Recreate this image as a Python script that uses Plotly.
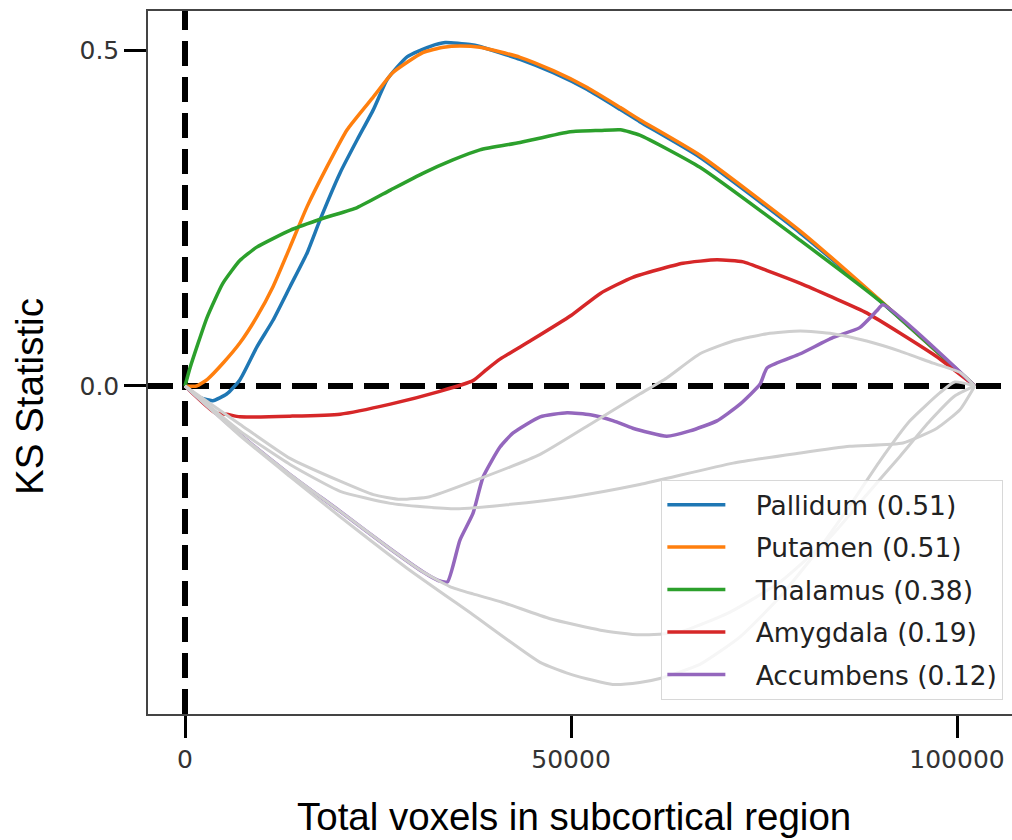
import plotly.graph_objects as go

# KS statistic along the voxel-count sweep, one curve per subcortical region
pallidum_x = [0, 1900, 3600, 5400, 7100, 9300, 11400, 13600, 15800, 17500, 20100, 22300, 24400,
              26200, 28800, 31700, 33700, 36900, 38200, 43400, 47700, 52100, 56400, 58900,
              66700, 79700, 90400, 102300]
pallidum_y = [0, -0.017, -0.022, -0.012, 0.009, 0.058, 0.098, 0.148, 0.198, 0.248, 0.318, 0.367,
              0.412, 0.457, 0.491, 0.506, 0.512, 0.509, 0.506, 0.487, 0.467, 0.442, 0.412, 0.394,
              0.341, 0.228, 0.123, 0]

putamen_x = [0, 1500, 2900, 5000, 7100, 9300, 11400, 13600, 15800, 18400, 21000, 24400, 26900,
             30800, 33500, 35600, 38200, 43400, 47700, 52100, 56400, 58900, 66700, 79700, 90400,
             102300]
putamen_y = [0, 0.0, 0.01, 0.035, 0.064, 0.103, 0.148, 0.207, 0.267, 0.327, 0.382, 0.431, 0.467,
             0.497, 0.505, 0.507, 0.505, 0.490, 0.470, 0.445, 0.415, 0.397, 0.344, 0.231, 0.124, 0]

thalamus_x = [0, 650, 2850, 4900, 7100, 9300, 13600, 17900, 22300, 26600, 30800, 34700, 38200,
              43400, 49900, 53800, 56400, 58900, 66700, 79700, 90400, 102300]
thalamus_y = [0, 0.027, 0.102, 0.153, 0.187, 0.207, 0.232, 0.25, 0.266, 0.292, 0.317, 0.337,
              0.352, 0.363, 0.379, 0.381, 0.382, 0.374, 0.326, 0.217, 0.123, 0]

amygdala_x = [0, 3900, 5400, 7100, 13600, 20100, 26600, 33000, 37300, 39000, 40800, 44700, 50000,
              53800, 58000, 64500, 68900, 72300, 75400, 79700, 83900, 88300, 97200, 102300]
amygdala_y = [0, -0.04, -0.042, -0.046, -0.045, -0.042, -0.027, -0.008, 0.008, 0.024, 0.04, 0.067,
              0.105, 0.138, 0.162, 0.183, 0.188, 0.185, 0.172, 0.153, 0.132, 0.109, 0.045, 0]

accumbens_x = [0, 7100, 13600, 20100, 26600, 30800, 32800, 34000, 35600, 37300, 38600, 40800,
               42500, 46000, 49500, 52500, 55500, 58000, 62400, 65400, 68900, 71900, 74500,
               75400, 79700, 83900, 87400, 89600, 90400, 102300]
accumbens_y = [0, -0.072, -0.132, -0.187, -0.243, -0.277, -0.29, -0.292, -0.23, -0.19, -0.136,
               -0.091, -0.07, -0.046, -0.04, -0.043, -0.052, -0.063, -0.075, -0.067, -0.052,
               -0.027, 0.003, 0.027, 0.048, 0.072, 0.087, 0.112, 0.121, 0]

# reference curves shown in light grey
ref_a_x = [0, 7100, 13600, 20100, 24400, 27900, 31700, 37300, 46000, 52500, 58900, 62400, 66700,
           71000, 75400, 79700, 83900, 88300, 92600, 96900, 100400, 102300]
ref_a_y = [0, -0.057, -0.108, -0.142, -0.162, -0.169, -0.165, -0.142, -0.102, -0.057, -0.012,
           0.012, 0.048, 0.067, 0.078, 0.082, 0.078, 0.067, 0.052, 0.034, 0.02, 0]

ref_b_x = [0, 7100, 13600, 20100, 26600, 30800, 35200, 41700, 50300, 58900, 71000, 79700, 86100,
           93000, 97400, 100400, 102300]
ref_b_y = [0, -0.067, -0.117, -0.157, -0.175, -0.18, -0.183, -0.177, -0.165, -0.147, -0.115,
           -0.1, -0.09, -0.085, -0.063, -0.035, 0]

ref_c_x = [0, 7100, 13600, 20100, 26600, 30800, 34300, 37300, 41000, 47300, 53800, 58900, 64100,
           70600, 77100, 83600, 88300, 92600, 96500, 99700, 102300]
ref_c_y = [0, -0.072, -0.132, -0.187, -0.243, -0.277, -0.299, -0.31, -0.322, -0.347, -0.364,
           -0.371, -0.367, -0.337, -0.292, -0.225, -0.162, -0.105, -0.052, -0.015, 0]

ref_d_x = [0, 7100, 13600, 20100, 28800, 37300, 46000, 50300, 55400, 58900, 61500, 66700, 71900,
           77100, 82300, 86500, 90000, 93900, 97800, 99700, 102300]
ref_d_y = [0, -0.074, -0.135, -0.195, -0.272, -0.341, -0.412, -0.431, -0.445, -0.442, -0.436,
           -0.415, -0.374, -0.314, -0.24, -0.172, -0.112, -0.052, -0.01, 0.006, 0]

region_names = ["Pallidum", "Putamen", "Thalamus", "Amygdala", "Accumbens"]
region_colors = ["#1f77b4", "#ff7f0e", "#2ca02c", "#d62728", "#9467bd"]
region_xs = [pallidum_x, putamen_x, thalamus_x, amygdala_x, accumbens_x]
region_ys = [pallidum_y, putamen_y, thalamus_y, amygdala_y, accumbens_y]
ref_xs = [ref_a_x, ref_b_x, ref_c_x, ref_d_x]
ref_ys = [ref_a_y, ref_b_y, ref_c_y, ref_d_y]

x_ticks = [0, 50000, 100000]
x_tick_labels = ["0", "50000", "100000"]
y_ticks = [0.0, 0.5]
y_tick_labels = ["0.0", "0.5"]

fig = go.Figure()

# gap between the short legend handle and its label
label_pad = "\u00a0\u00a0\u00a0"

for name, color, xs, ys in zip(region_names, region_colors, region_xs, region_ys):
    fig.add_trace(go.Scatter(
        x=xs, y=ys, mode="lines",
        name=f"{label_pad}{name} ({max(ys):.2f})",
        legendgroup=name,
        line=dict(color=color, width=3.5, shape="spline", smoothing=0.5),
    ))

for xs, ys in zip(ref_xs, ref_ys):
    fig.add_trace(go.Scatter(
        x=xs, y=ys, mode="lines", showlegend=False, hoverinfo="skip",
        line=dict(color="#cfcfcf", width=3, shape="spline", smoothing=0.5),
    ))

fig.add_vline(x=0, line=dict(color="black", width=6, dash="25px,11px"), layer="below")
fig.add_hline(y=0, line=dict(color="black", width=6, dash="25px,11px"), layer="below")

tick_font = dict(family="DejaVu Sans", size=25, color="#333333")

fig.update_xaxes(
    range=[-4793, 107120], showgrid=False, zeroline=False,
    showline=True, linecolor="#444444", linewidth=1.5, mirror=True,
    ticks="outside", ticklen=22, tickwidth=3, tickcolor="black",
    tickvals=x_ticks, ticktext=x_tick_labels, tickfont=tick_font,
)
fig.update_yaxes(
    range=[-0.489, 0.559], showgrid=False, zeroline=False,
    showline=True, linecolor="#444444", linewidth=1.5,
    ticks="outside", ticklen=22, tickwidth=3, tickcolor="black",
    tickvals=y_ticks, ticktext=y_tick_labels, tickfont=tick_font,
)

title_font = dict(family="Liberation Sans", size=38.5, color="black")
fig.add_annotation(text="KS Statistic", xref="paper", yref="paper", x=0, xshift=-118,
                   y=0.451, textangle=-90, showarrow=False, font=title_font,
                   xanchor="center", yanchor="middle")
fig.add_annotation(text="Total voxels in subcortical region", xref="paper", yref="paper",
                   x=0.493, y=-0.1465, showarrow=False, font=title_font,
                   xanchor="center", yanchor="middle")

fig.update_layout(
    width=1012, height=840,
    margin=dict(l=148, r=0, t=11, b=126),
    plot_bgcolor="white", paper_bgcolor="white",
    legend=dict(
        x=0.990, xanchor="right", y=0.02, yanchor="bottom",
        bgcolor="rgba(255,255,255,0.8)", bordercolor="#d8d8d8", borderwidth=1,
        font=dict(family="DejaVu Sans", size=26.5, color="#222222"),
        itemwidth=58, tracegroupgap=5,
    ),
)

fig.write_html("out.html")
